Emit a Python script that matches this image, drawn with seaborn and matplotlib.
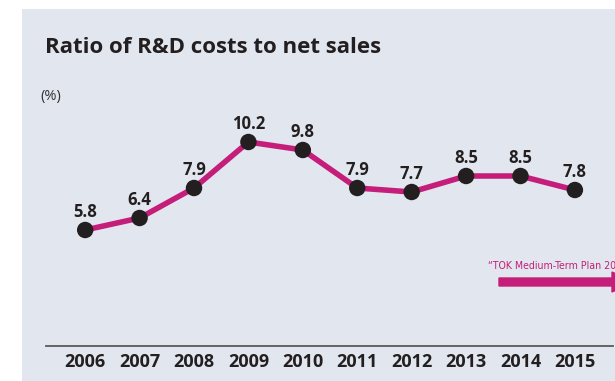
import matplotlib
matplotlib.use("Agg")
import matplotlib.pyplot as plt
from matplotlib.patches import Rectangle, FancyArrow
import seaborn as sns
import pandas as pd

years = ["2006", "2007", "2008", "2009", "2010", "2011", "2012", "2013", "2014", "2015"]
ratio = [5.8, 6.4, 7.9, 10.2, 9.8, 7.9, 7.7, 8.5, 8.5, 7.8]

title = "Ratio of R&D costs to net sales"
unit_label = "(%)"
plan_label = "\u201cTOK Medium-Term Plan 2018\u201d"

MAGENTA = "#c41e7a"
DARK = "#231f20"
PANEL = "#e2e6ef"

sns.set_theme(style="white")
plt.rcParams["font.family"] = ["Open Sans", "DejaVu Sans"]

W, H = 615, 381
fig = plt.figure(figsize=(W / 100, H / 100), dpi=100)
fig.patch.set_facecolor("white")

# light panel behind the whole chart
fig.patches.append(Rectangle((22 / W, 0), 1 - 22 / W, (H - 9) / H,
                             transform=fig.transFigure, facecolor=PANEL,
                             edgecolor="none", zorder=-5))

ax = fig.add_axes([46 / W, (H - 346) / H, (613 - 46) / W, 246 / H])
ax.set_facecolor("none")
ax.set_zorder(1)

df = pd.DataFrame({"year": years, "ratio": ratio})
df["pos"] = range(len(df))

sns.lineplot(data=df, x="pos", y="ratio", ax=ax, color=MAGENTA, linewidth=4,
             zorder=2)
sns.scatterplot(data=df, x="pos", y="ratio", ax=ax, color=DARK, s=140,
                edgecolor="none", zorder=3)

for p, v in zip(df["pos"], df["ratio"]):
    ax.annotate(f"{v:.1f}", (p, v), xytext=(0, 13), textcoords="offset pixels",
                ha="center", va="baseline", fontsize=12, fontweight="bold",
                color=DARK)

ax.set_xlim(-0.72, 9.70)
ax.set_ylim(0, 12.3)
ax.set_xticks(df["pos"])
ax.set_xticklabels(years, fontsize=13, fontweight="bold", color=DARK)
ax.set_yticks([])
ax.set_xlabel("")
ax.set_ylabel("")
ax.tick_params(axis="x", length=0, pad=5)
for side in ["left", "right", "top"]:
    ax.spines[side].set_visible(False)
ax.spines["bottom"].set_color("#5a5a5a")
ax.spines["bottom"].set_linewidth(1.3)

fig.text(45 / W, 1 - 53 / H, title, fontsize=16, fontweight="bold",
         color=DARK, va="baseline", ha="left")
fig.text(40 / W, 1 - 100 / H, unit_label, fontsize=10.5, color="#333333",
         va="baseline", ha="left")

# plan period arrow running off the right edge
fig.text(488 / W, 1 - 269 / H, plan_label, fontsize=7.6, color=MAGENTA,
         va="baseline", ha="left", fontstretch="condensed",
         family=["Liberation Sans Narrow", "DejaVu Sans"])
fig.patches.append(FancyArrow(499 / W, 1 - 282 / H, 135 / W, 0,
                              width=8 / H, head_width=20 / H,
                              head_length=22 / W, length_includes_head=True,
                              transform=fig.transFigure, color=MAGENTA,
                              zorder=3))

fig.savefig("out.png", dpi=100)
